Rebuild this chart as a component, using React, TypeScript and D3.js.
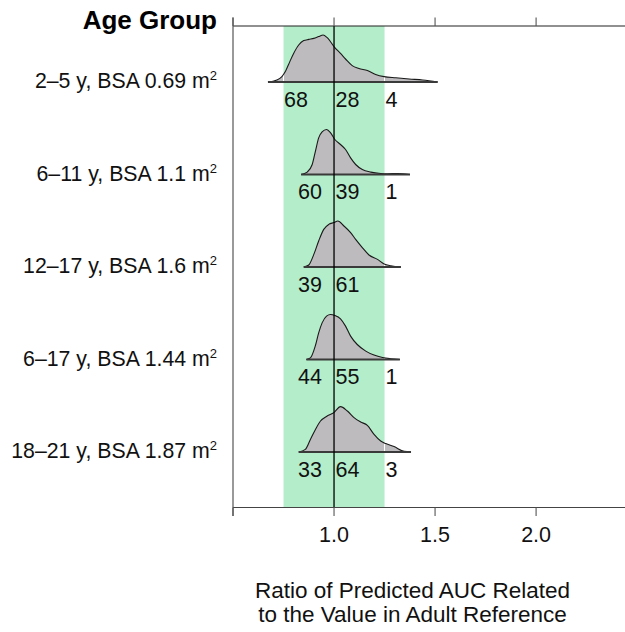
import React from "react";
import * as d3 from "d3";

const groups = [
  "2–5 y, BSA 0.69",
  "6–11 y, BSA 1.1",
  "12–17 y, BSA 1.6",
  "6–17 y, BSA 1.44",
  "18–21 y, BSA 1.87",
];

// density curves: [ratio, density]
const ridge0: [number, number][] = [
  [0.673, 0], [0.717, 0.1], [0.742, 0.27], [0.759, 0.52], [0.775, 0.88], [0.8, 1.43], [0.825, 1.85],
  [0.85, 2.07], [0.875, 2.13], [0.9, 2.18], [0.924, 2.27], [0.946, 2.35], [0.966, 2.22], [1.004, 1.72],
  [1.032, 1.43], [1.057, 1.15], [1.09, 0.82], [1.123, 0.68], [1.165, 0.57], [1.206, 0.38], [1.248, 0.27],
  [1.306, 0.21], [1.372, 0.15], [1.439, 0.1], [1.513, 0.0],
];
const ridge1: [number, number][] = [
  [0.837, 0], [0.867, 0.12], [0.892, 0.5], [0.908, 1.17], [0.924, 1.83], [0.941, 2.13], [0.963, 2.25],
  [0.983, 2.08], [1.004, 1.75], [1.032, 1.5], [1.057, 1.25], [1.082, 0.83], [1.107, 0.5], [1.14, 0.25],
  [1.182, 0.12], [1.231, 0.05], [1.265, 0.035], [1.316, 0.05], [1.376, 0],
];
const ridge2: [number, number][] = [
  [0.85, 0], [0.875, 0.1], [0.9, 0.63], [0.924, 1.3], [0.949, 1.88], [0.974, 2.13], [0.999, 2.22],
  [1.019, 2.3], [1.049, 2.05], [1.082, 1.72], [1.107, 1.38], [1.14, 0.97], [1.173, 0.6], [1.215, 0.38],
  [1.248, 0.15], [1.281, 0.06], [1.331, 0],
];
const ridge3: [number, number][] = [
  [0.863, 0], [0.883, 0.08], [0.907, 0.67], [0.924, 1.33], [0.941, 1.83], [0.963, 2.17], [0.983, 2.25],
  [1.004, 2.2], [1.032, 2.03], [1.057, 1.67], [1.082, 1.17], [1.115, 0.75], [1.157, 0.42], [1.198, 0.22],
  [1.24, 0.1], [1.281, 0.04], [1.326, 0],
];
const ridge4: [number, number][] = [
  [0.825, 0], [0.858, 0.13], [0.883, 0.63], [0.908, 1.13], [0.933, 1.55], [0.966, 1.8], [0.999, 1.97],
  [1.032, 2.27], [1.066, 2.05], [1.099, 1.72], [1.132, 1.5], [1.165, 1.33], [1.198, 0.88], [1.231, 0.55],
  [1.256, 0.42], [1.297, 0.27], [1.347, 0.03], [1.381, 0],
];
const ridges = [ridge0, ridge1, ridge2, ridge3, ridge4];

const pctLabels = [
  ["68", "28", "4"],
  ["60", "39", "1"],
  ["39", "61"],
  ["44", "55", "1"],
  ["33", "64", "3"],
];

const xTicks = [0.5, 1.0, 1.5, 2.0];
const xTickLabels = ["", "1.0", "1.5", "2.0"];
const bandRange = [0.75, 1.25];
const refValue = 1.0;

const FONT = "'Liberation Sans', Arial, Helvetica, sans-serif";

export default function App() {
  const W = 625, H = 632;
  const top = 26, bottom = 507.5, left = 233;
  const x = d3.scaleLinear().domain([0.5, 2.44]).range([left, 625]);
  const y = d3.scalePoint<string>().domain(groups).range([82, 452]);
  const h = d3.scaleLinear().domain([0, 2.5]).range([0, 50]);

  return (
    <svg width={W} height={H} style={{ position: "absolute", left: 0, top: 0, background: "#fff" }} fontFamily={FONT}>
      {/* band */}
      <rect x={x(bandRange[0])} y={top} width={x(bandRange[1]) - x(bandRange[0])} height={bottom - top} fill="#b3edca" />

      {/* ridges */}
      {ridges.map((r, i) => {
        const base = y(groups[i])!;
        const area = d3.area<[number, number]>().x(d => x(d[0])).y0(base).y1(d => base - h(d[1])).curve(d3.curveMonotoneX);
        const line = d3.line<[number, number]>().x(d => x(d[0])).y(d => base - h(d[1])).curve(d3.curveMonotoneX);
        const ext = d3.extent(r, d => d[0]) as [number, number];
        const id = `clip${i}`;
        return (
          <g key={i}>
            <clipPath id={id}><path d={area(r)!} /></clipPath>
            <path d={area(r)!} fill="#bdbbbd" />
            <g clipPath={`url(#${id})`}>
              {bandRange.map((b, j) => (
                <line key={j} x1={x(b)} x2={x(b)} y1={base - 60} y2={base} stroke="#fff" strokeWidth={1} />
              ))}
            </g>
            <path d={line(r)!} fill="none" stroke="#1a1a1a" strokeWidth={1.1} />
            <line x1={x(ext[0])} x2={x(ext[1])} y1={base} y2={base} stroke="#3a3a3a" strokeWidth={1.8} />
            {pctLabels[i].map((t, j) => {
              const ty = base + 24.5;
              if (j === 0) {
                return i === 0 ? (
                  <text key={j} x={x(bandRange[0]) + 0.5} y={ty} fontSize={21.5} fill="#111">{t}</text>
                ) : (
                  <text key={j} x={x(refValue) - 12} y={ty} fontSize={21.5} fill="#111" textAnchor="end">{t}</text>
                );
              }
              const xs = j === 1 ? x(refValue) + 1.5 : x(bandRange[1]) + 1;
              return <text key={j} x={xs} y={ty} fontSize={21.5} fill="#111">{t}</text>;
            })}
          </g>
        );
      })}

      {/* reference line */}
      <line x1={x(refValue)} x2={x(refValue)} y1={top} y2={bottom} stroke="#000" strokeWidth={1.3} />

      {/* panel borders / axes */}
      <line x1={left} x2={W} y1={top} y2={top} stroke="#222" strokeWidth={1.1} />
      <line x1={left} x2={W} y1={bottom} y2={bottom} stroke="#444" strokeWidth={1.1} />
      <line x1={left} x2={left} y1={top - 8.5} y2={bottom + 8.5} stroke="#555" strokeWidth={1.2} />
      {xTicks.map((t, i) => (
        <g key={i}>
          <line x1={x(t)} x2={x(t)} y1={top} y2={top - 8.5} stroke="#555" strokeWidth={1.1} />
          <line x1={x(t)} x2={x(t)} y1={bottom} y2={bottom + 8.5} stroke="#555" strokeWidth={1.1} />
          {xTickLabels[i] && (
            <text x={x(t)} y={542} fontSize={21.5} textAnchor="middle" fill="#111">{xTickLabels[i]}</text>
          )}
        </g>
      ))}

      {/* y labels */}
      <text x={217} y={28.5} fontSize={26} fontWeight="bold" textAnchor="end" fill="#000">Age Group</text>
      {groups.map((g, i) => (
        <text key={i} x={217} y={y(g)! + 6} fontSize={21.3} textAnchor="end" fill="#111">
          {g} m<tspan fontSize={13} dy={-8}>2</tspan>
        </text>
      ))}

      {/* x title */}
      <text x={412.5} y={597.5} fontSize={22.5} textAnchor="middle" fill="#111">Ratio of Predicted AUC Related</text>
      <text x={412.5} y={621.5} fontSize={22.5} textAnchor="middle" fill="#111">to the Value in Adult Reference</text>
    </svg>
  );
}
